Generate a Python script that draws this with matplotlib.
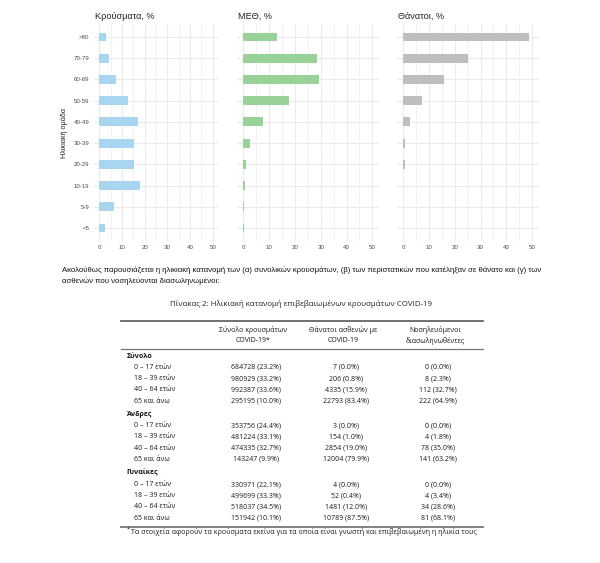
import matplotlib
matplotlib.use("Agg")
import matplotlib.pyplot as plt
from matplotlib.lines import Line2D

W, H = 600, 563
fig = plt.figure(figsize=(W / 100, H / 100), dpi=100)
fig.patch.set_facecolor("white")

def fx(x):
    return x / W

def fy(y):
    return 1 - y / H

# ---------------- chart data ----------------
age_groups = ["<5", "5-9", "10-19", "20-29", "30-39", "40-49", "50-59", "60-69", "70-79", ">80"]
cases_pct = [2.5, 6.3, 17.9, 15.1, 15.1, 17.2, 12.5, 7.4, 4.4, 2.9]
icu_pct = [0.2, 0.2, 0.5, 1.0, 2.6, 7.6, 17.7, 29.3, 28.7, 13.0]
deaths_pct = [0.1, 0.05, 0.1, 0.5, 0.8, 2.6, 7.3, 16.0, 25.1, 49.0]
panel_titles = ["Κρούσματα, %", "ΜΕΘ, %", "Θάνατοι, %"]
panel_colors = ["#a8d5f0", "#98d298", "#bebebe"]
x_ticks = [0, 10, 20, 30, 40, 50]
y_label = "Ηλικιακή ομάδα"

xmin, xmax = -2.5, 52.5
top_px, bot_px = 24.3, 240.7
panels_px = [(93.6, 218.4), (236.8, 378.8), (396.8, 538.5)]
series = [cases_pct, icu_pct, deaths_pct]

cfont = "Liberation Sans"
for i, ((l, r), vals) in enumerate(zip(panels_px, series)):
    ax = fig.add_axes([fx(l), fy(bot_px), (r - l) / W, (bot_px - top_px) / H])
    ypos = list(range(len(age_groups)))
    ax.barh(ypos, vals, height=0.42, color=panel_colors[i], zorder=3)
    ax.set_xlim(xmin, xmax)
    ax.set_ylim(-0.6, len(age_groups) - 0.4)
    ax.set_xticks(x_ticks)
    ax.set_xticks([5, 15, 25, 35, 45], minor=True)
    ax.set_yticks(ypos)
    ax.grid(True, which="major", color="#ebebeb", linewidth=0.8, zorder=0)
    ax.grid(True, which="minor", axis="x", color="#f0f0f0", linewidth=0.6, zorder=0)
    for s in ax.spines.values():
        s.set_visible(False)
    ax.tick_params(axis="both", which="both", length=0, labelsize=4.4, labelcolor="#4d4d4d", pad=3)
    ax.set_xticklabels([str(t) for t in x_ticks], fontfamily=cfont)
    if i == 0:
        ax.set_yticklabels(age_groups, fontfamily=cfont)
        ax.set_ylabel(y_label, fontsize=5.2, fontfamily=cfont, color="#222222", labelpad=4)
    else:
        ax.set_yticklabels([])
    ax.set_title(panel_titles[i], loc="left", fontsize=6.6, fontfamily=cfont,
                 color="#222222", pad=4, x=0.01)

# ---------------- text ----------------
bfont = "Liberation Sans"
para = [
    "Ακολούθως παρουσιάζεται η ηλικιακή κατανομή των (α) συνολικών κρουσμάτων, (β) των περιστατικών που κατέληξαν σε θάνατο και (γ) των",
    "ασθενών που νοσηλεύονται διασωληνωμένοι:",
]
fig.text(fx(62), fy(270), para[0], fontsize=5.55, fontfamily=bfont, va="center", ha="left", color="#111111")
fig.text(fx(62), fy(281.5), para[1], fontsize=5.55, fontfamily=bfont, va="center", ha="left", color="#111111")

tfont = "Open Sans"
fig.text(fx(301.5), fy(304), "Πίνακας 2: Ηλικιακή κατανομή επιβεβαιωμένων κρουσμάτων COVID-19",
         fontsize=5.7, fontfamily=tfont, ha="center", va="center", color="#222222")

# ---------------- table data ----------------
col_headers = [("Σύνολο κρουσμάτων", "COVID-19*"),
               ("Θάνατοι ασθενών με", "COVID-19"),
               ("Νοσηλευόμενοι", "διασωληνωθέντες")]
sections = ["Σύνολο", "Άνδρες", "Γυναίκες"]
row_labels = ["0 – 17 ετών", "18 – 39 ετών", "40 – 64 ετών", "65 και άνω"]
total_cases = ["684728 (23.2%)", "980929 (33.2%)", "992387 (33.6%)", "295195 (10.0%)"]
total_deaths = ["7 (0.0%)", "206 (0.8%)", "4335 (15.9%)", "22793 (83.4%)"]
total_icu = ["0 (0.0%)", "8 (2.3%)", "112 (32.7%)", "222 (64.9%)"]
men_cases = ["353756 (24.4%)", "481224 (33.1%)", "474335 (32.7%)", "143247 (9.9%)"]
men_deaths = ["3 (0.0%)", "154 (1.0%)", "2854 (19.0%)", "12004 (79.9%)"]
men_icu = ["0 (0.0%)", "4 (1.8%)", "78 (35.0%)", "141 (63.2%)"]
women_cases = ["330971 (22.1%)", "499699 (33.3%)", "518037 (34.5%)", "151942 (10.1%)"]
women_deaths = ["4 (0.0%)", "52 (0.4%)", "1481 (12.0%)", "10789 (87.5%)"]
women_icu = ["0 (0.0%)", "4 (3.4%)", "34 (28.6%)", "81 (68.1%)"]
footnote = "Τα στοιχεία αφορούν τα κρούσματα εκείνα για τα οποία είναι γνωστή και επιβεβαιωμένη η ηλικία τους"

section_data = [(total_cases, total_deaths, total_icu),
                (men_cases, men_deaths, men_icu),
                (women_cases, women_deaths, women_icu)]

col_x = [256, 346, 438]
tl, tr = 121, 483
fs = 5.0
tc = "#1a1a1a"

def hline(y, lw, color):
    fig.add_artist(Line2D([fx(tl), fx(tr)], [fy(y), fy(y)], lw=lw, color=color,
                          transform=fig.transFigure))

hline(320.7, 1.3, "#666666")
hline(348.5, 0.9, "#777777")
hline(526.5, 1.3, "#777777")

for cx, (h1, h2) in zip(col_x, col_headers):
    fig.text(fx(cx - 3), fy(330), h1, fontsize=fs, fontfamily=tfont, ha="center", va="center", color=tc)
    fig.text(fx(cx - 3), fy(341), h2, fontsize=fs, fontfamily=tfont, ha="center", va="center", color=tc)

sec_y = [356.3, 414.5, 473.3]
for sy, sname, sdat in zip(sec_y, sections, section_data):
    fig.text(fx(126.5), fy(sy), sname, fontsize=fs, fontfamily=tfont, fontweight="bold",
             ha="left", va="center", color="#111111")
    for k, lab in enumerate(row_labels):
        yy = sy + 11.2 * (k + 1)
        fig.text(fx(134.5), fy(yy), lab, fontsize=fs, fontfamily=tfont, ha="left", va="center", color=tc)
        for cx, colvals in zip(col_x, sdat):
            fig.text(fx(cx), fy(yy), colvals[k], fontsize=fs, fontfamily=tfont,
                     ha="center", va="center", color=tc)

fig.text(fx(127), fy(529.5), "*", fontsize=4, fontfamily=tfont, ha="left", va="center", color=tc)
fig.text(fx(131), fy(532), footnote, fontsize=5.15, fontfamily=tfont, ha="left", va="center", color=tc)

fig.savefig("out.png", dpi=100, facecolor="white")
